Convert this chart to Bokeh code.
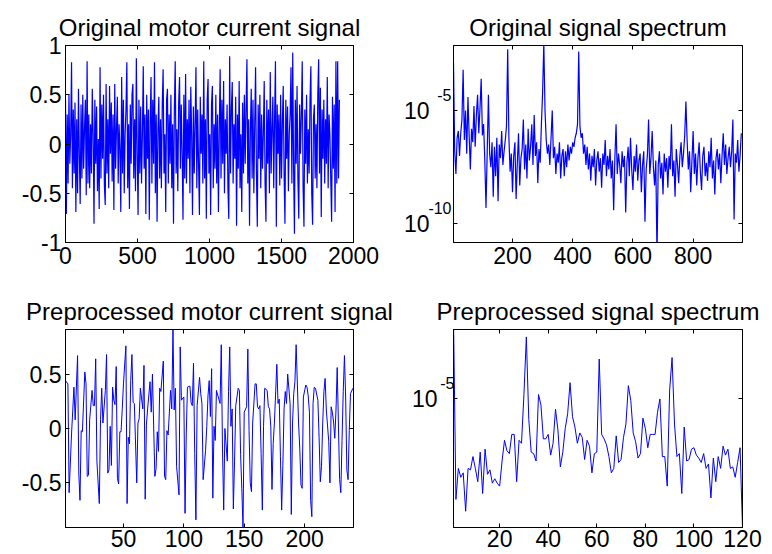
import json
import numpy as np
from bokeh.plotting import figure
from bokeh.layouts import column, row
from bokeh.models import Range1d, FixedTicker, LinearAxis, LogAxis, CustomJSTickFormatter
from bokeh.embed import file_html
from bokeh.resources import INLINE

FONT = "Liberation Sans"
BLUE = "#0000ff"

# ---------------- data ----------------
# Original motor current signal (one value every 6 samples)
ORIG_STEP = 6
orig_signal = [
    0.45, -0.71, 0.3, -0.4, 0.5, -0.2, 0.1, 0.83, -0.45, 0.35,
    -0.3, 0.42, -0.69, 0.25, -0.5, 0.56, -0.1, -0.61, 0.4, -0.35,
    0.5, -0.25, 0.15, 0.45, -0.52, 0.84, -0.4, 0.3, -0.45, 0.2,
    -0.3, 0.56, 0.1, -0.81, 0.45, -0.2, 0.38, -0.48, 0.05, -0.66,
    0.78, -0.35, 0.4, -0.15, 0.5, -0.42, -0.62, 0.61, -0.3, 0.25,
    -0.45, 0.59, -0.1, 0.42, -0.38, 0.3, -0.67, 0.61, -0.25, 0.15,
    0.48, -0.4, 0.2, -0.05, -0.69, 0.68, -0.3, 0.45, -0.5, 0.1,
    0.35, 0.83, -0.45, 0.2, -0.66, 0.4, -0.2, 0.5, 0.61, -0.35,
    0.25, -0.48, 0.87, -0.1, -0.72, 0.45, -0.3, 0.38, -0.4, 0.1,
    0.79, -0.25, 0.3, -0.71, 0.5, -0.15, 0.35, -0.77, 0.2, 0.68,
    -0.4, 0.45, -0.2, 0.83, -0.5, 0.3, -0.79, 0.15, 0.48, -0.35,
    0.25, -0.45, 0.4, 0.76, -0.3, 0.1, -0.69, 0.45, 0.56, -0.4,
    0.3, -0.2, 0.5, -0.45, 0.2, -0.81, 0.35, 0.84, -0.3, 0.15,
    -0.48, 0.42, 0.68, -0.25, 0.4, -0.1, -0.77, 0.5, -0.35, 0.71,
    -0.4, 0.25, -0.15, 0.45, -0.5, 0.58, 0.1, -0.72, 0.38, -0.3,
    0.2, 0.78, -0.45, 0.35, -0.2, -0.72, 0.48, -0.1, 0.3, -0.4,
    0.84, -0.35, 0.25, -0.76, 0.45, 0.66, -0.3, 0.1, -0.72, 0.4,
    0.59, -0.45, 0.2, -0.25, 0.5, -0.4, 0.3, -0.69, 0.15, 0.76,
    -0.35, 0.45, -0.2, 0.64, -0.5, 0.25, -0.1, 0.4, -0.45, -0.76,
    0.89, -0.3, 0.35, 0.63, -0.4, 0.2, -0.15, 0.48, -0.83, 0.3,
    -0.25, 0.64, -0.45, 0.1, -0.69, 0.42, -0.3, 0.5, -0.2, 0.35,
    0.86, -0.4, 0.25, -0.83, 0.15, 0.56, -0.35, 0.45, -0.5, 0.2,
    0.78, -0.3, -0.84, 0.4, -0.15, 0.5, -0.45, 0.3, -0.25, 0.1,
    0.64, -0.4, -0.79, 0.45, -0.2, 0.35, -0.5, 0.73, -0.3, 0.15,
    0.48, -0.45, 0.25, 0.84, -0.84, 0.4, -0.1, 0.3, -0.42, 0.5,
    -0.35, 0.2, 0.59, -0.3, -0.81, 0.45, -0.15, 0.38, -0.48, 0.1,
    0.3, 0.78, -0.4, 0.93, -0.25, -0.91, 0.45, -0.2, 0.59, -0.35,
    -0.76, 0.4, -0.1, 0.3, 0.84, -0.45, -0.84, 0.35, -0.2, 0.5,
    -0.4, 0.15, -0.3, 0.45, 0.79, -0.5, -0.82, 0.25, 0.4, -0.35,
    0.2, -0.45, 0.5, 0.86, -0.3, 0.57, -0.74, 0.35, -0.15, 0.45,
    -0.4, 0.25, -0.2, 0.68, -0.45, 0.3, 0.1, -0.35, -0.79, 0.48,
    -0.25, 0.4, -0.69, 0.84, -0.4, 0.84, -0.35, 0.45,
]

# Original signal spectrum, log10 of magnitude, one value every 4 bins
SPEC_STEP = 4
spec_log10 = [
    -2.9, -6.8, -7.8, -6.2, -5.9, -7.0, -6.0, -5.4, -3.2, -6.3,
    -5.0, -6.9, -4.4, -6.1, -7.6, -5.8, -6.4, -4.8, -6.6, -5.2,
    -4.3, -6.0, -4.9, -3.6, -6.1, -5.6, -7.2, -9.3, -6.8, -4.3,
    -6.9, -7.5, -6.4, -8.8, -6.6, -7.9, -6.2, -9.0, -6.5, -7.1,
    -5.9, -7.4, -6.8, -6.3, -5.7, -2.3, -6.2, -7.7, -6.9, -8.6,
    -7.0, -6.4, -8.9, -7.3, -6.0, -8.3, -7.1, -6.7, -5.4, -7.6,
    -6.5, -8.0, -5.8, -7.2, -6.6, -5.6, -7.4, -5.2, -7.0, -6.4,
    -8.2, -6.7, -7.3, -5.6, -4.2, -2.0, -5.0, -6.3, -6.9, -6.5,
    -7.4, -6.2, -5.0, -7.1, -6.6, -7.8, -6.9, -7.3, -6.4, -8.0,
    -7.0, -6.7, -7.9, -6.8, -7.5, -6.5, -7.2, -6.6, -6.9, -6.4,
    -6.6, -6.2, -6.0, -5.6, -2.4, -5.7, -6.2, -6.0, -6.9, -6.5,
    -7.4, -6.6, -7.6, -6.9, -8.1, -7.0, -7.5, -6.7, -8.3, -7.2,
    -6.8, -7.7, -7.1, -8.4, -6.9, -7.4, -6.3, -7.9, -7.0, -7.6,
    -6.7, -8.0, -7.2, -9.4, -7.1, -5.6, -7.8, -6.9, -7.4, -8.2,
    -6.8, -7.5, -7.0, -9.5, -7.3, -6.6, -7.9, -6.2, -7.6, -8.5,
    -7.0, -7.7, -6.5, -8.1, -7.2, -6.9, -8.6, -7.4, -6.8, -9.9,
    -7.6, -7.0, -5.4, -7.8, -7.1, -5.9, -7.5, -8.3, -7.2, -11.5,
    -7.4, -6.8, -8.0, -7.3, -8.7, -6.9, -7.7, -7.1, -8.4, -7.0,
    -7.6, -5.6, -7.9, -7.2, -8.8, -6.7, -7.4, -8.2, -7.0, -6.4,
    -7.5, -6.9, -6.1, -4.6, -6.3, -7.6, -6.8, -8.6, -7.2, -5.9,
    -7.8, -6.9, -8.3, -7.1, -6.4, -7.7, -8.5, -7.0, -6.6, -7.9,
    -7.3, -8.1, -6.8, -7.5, -6.2, -8.0, -7.2, -8.7, -7.1, -6.7,
    -7.6, -6.9, -8.2, -7.0, -6.0, -7.4, -6.5, -7.8, -7.1, -6.6,
    -7.5, -6.8, -5.4, -9.8, -6.9, -7.3, -6.3, -7.7, -7.0, -6.0,
]

# Preprocessed motor current signal: sample index and value
pre_idx = [
    2, 4, 5, 7, 9, 10, 12, 13, 14, 15, 16, 18, 19, 20, 21, 22, 24, 25, 26, 27,
    28, 30, 31, 32, 33, 35, 36, 37, 38, 39, 40, 41, 42, 43, 44, 45, 46, 47, 48, 49,
    50, 52, 53, 54, 55, 56, 57, 58, 59, 61, 62, 63, 64, 66, 67, 68, 69, 70, 72, 73,
    74, 76, 77, 78, 79, 80, 81, 83, 84, 85, 86, 87, 89, 90, 91, 92, 93, 94, 96, 97,
    98, 100, 101, 102, 103, 105, 106, 107, 108, 109, 110, 111, 113, 114, 115, 116, 118, 119, 120, 121,
    122, 123, 124, 125, 126, 127, 129, 130, 131, 132, 133, 134, 136, 137, 138, 139, 140, 141, 142, 143,
    145, 146, 147, 148, 149, 150, 152, 153, 154, 155, 156, 157, 159, 160, 161, 162, 163, 164, 165, 166,
    167, 169, 170, 171, 172, 173, 174, 175, 177, 178, 179, 180, 181, 182, 183, 184, 185, 186, 188, 189,
    190, 191, 192, 193, 195, 196, 197, 198, 199, 201, 202, 203, 204, 205, 206, 207, 208, 209, 211, 212,
    213, 214, 215, 216, 217, 218, 220, 221, 222, 223, 224, 225, 226, 227, 229, 230, 231, 232, 233, 234,
    235, 236, 237, 238, 240,
]
pre_signal = [
    0.44, 0.41, -0.59, -0.05, 0.38, 0.08, 0.67, -0.41, -0.66, -0.02, -0.03, 0.52, 0.41, -0.44, -0.43, 0.08, 0.35, 0.21, 0.21, 0.64,
    -0.30, -0.69, 0.08, 0.37, 0.05, 0.35, 0.68, -0.41, -0.38, 0.02, -0.34, 0.38, 0.26, 0.22, 0.57, -0.46, -0.51, -0.03, -0.03, 0.18,
    0.41, 0.76, -0.69, -0.08, -0.14, 0.44, 0.68, 0.24, 0.23, -0.50, 0.05, 0.09, 0.37, 0.18, 0.58, -0.65, 0.03, 0.18, 0.43, 0.15,
    0.50, -0.44, -0.37, -0.03, -0.21, 0.37, 0.34, 0.62, -0.44, -0.47, -0.02, -0.06, 0.35, 0.18, 0.91, 0.17, 0.37, -0.35, -0.61, 0.75,
    0.26, 0.29, -0.78, -0.05, 0.38, 0.39, 0.24, 0.21, 0.60, -0.23, -0.84, 0.21, 0.47, 0.32, 0.23, -0.47, -0.20, 0.02, 0.30, 0.44,
    0.11, 0.55, -0.64, 0.02, -0.11, 0.35, 0.27, 0.23, 0.77, -0.18, -0.75, 0.00, -0.30, 0.34, 0.75, 0.02, 0.18, -0.74, -0.30, 0.21,
    0.37, 0.35, -0.24, -0.55, -0.91, 0.15, 0.20, 0.73, -0.02, -0.50, -0.58, 0.05, 0.41, 0.41, 0.20, 0.18, 0.21, -0.23, -0.75, 0.02,
    0.37, 0.35, 0.20, 0.18, 0.02, -0.56, -0.14, 0.05, 0.59, 0.23, 0.27, -0.26, -0.75, -0.34, 0.18, 0.34, 0.23, 0.50, 0.23, -0.79,
    0.05, 0.32, 0.43, 0.77, 0.05, -0.18, -0.52, -0.55, 0.29, 0.40, 0.38, 0.30, 0.15, -0.66, -0.81, 0.23, 0.38, 0.37, 0.26, -0.08,
    -0.49, -0.35, 0.05, 0.34, 0.46, 0.17, -0.12, -0.50, 0.20, 0.15, 0.06, -0.09, 0.17, 0.56, -0.47, -0.59, -0.11, 0.34, 0.67, 0.29,
    -0.38, -0.47, -0.02, 0.32, 0.37,
]

# Preprocessed signal spectrum, log10 of magnitude for bins 1..120
pre_spec_log10 = [
    -4.45, -5.68, -5.47, -5.53, -5.50, -5.76, -5.47, -5.48, -5.39, -5.47,
    -5.56, -5.36, -5.64, -5.34, -5.51, -5.48, -5.57, -5.54, -5.57, -5.59,
    -5.42, -5.28, -5.35, -5.37, -5.24, -5.24, -5.56, -5.28, -5.30, -4.97,
    -4.58, -5.14, -5.36, -5.37, -5.42, -4.97, -5.04, -5.27, -5.27, -5.24,
    -5.38, -5.30, -5.07, -5.21, -5.46, -5.36, -5.20, -5.10, -4.89, -5.12,
    -5.19, -5.30, -5.23, -5.26, -5.41, -5.28, -5.32, -5.50, -5.37, -5.36,
    -4.73, -5.24, -5.27, -5.31, -5.39, -5.50, -5.47, -5.25, -5.43, -5.41,
    -5.26, -5.17, -4.91, -5.01, -5.23, -5.29, -5.40, -5.37, -5.13, -5.20,
    -5.33, -5.24, -5.24, -5.24, -5.09, -5.00, -5.39, -5.39, -5.59, -4.94,
    -4.72, -5.17, -5.39, -5.37, -5.64, -5.19, -5.42, -5.41, -5.34, -5.33,
    -5.38, -5.40, -5.43, -5.37, -5.47, -5.44, -5.67, -5.40, -5.56, -5.39,
    -5.47, -5.32, -5.38, -5.34, -5.47, -5.46, -5.53, -5.43, -5.33, -5.87,
]

# Axis ticks and limits
orig_xticks = [0, 500, 1000, 1500, 2000]
orig_yticks = [-1, -0.5, 0, 0.5, 1]
spec_xticks = [200, 400, 600, 800]
spec_yticks = [1e-10, 1e-5]
spec_exponents = ["-10", "-5"]
pre_xticks = [50, 100, 150, 200]
pre_yticks = [-0.5, 0, 0.5]
pre_spec_xticks = [20, 40, 60, 80, 100, 120]
pre_spec_yticks = [1e-5]
pre_spec_exponents = ["-5"]

# ---------------- derived columns ----------------
orig_x = np.arange(len(orig_signal)) * ORIG_STEP
spec_x = (np.arange(len(spec_log10)) + 1) * SPEC_STEP
spec_y = 10.0 ** np.array(spec_log10)
pre_spec_x = np.arange(1, len(pre_spec_log10) + 1)
pre_spec_y = 10.0 ** np.array(pre_spec_log10)

NUM_FMT = "return String(Math.round(tick * 100) / 100);"
BASE_FMT = "return '10';"
BLANK_FMT = "return '';"


def style_axis(ax, standoff, size="23px"):
    ax.major_tick_in = 4
    ax.major_tick_out = 0
    ax.minor_tick_line_color = None
    ax.axis_line_color = "black"
    ax.major_tick_line_color = "black"
    ax.major_label_text_font = FONT
    ax.major_label_text_font_size = size
    ax.major_label_text_color = "black"
    ax.major_label_standoff = standoff


def make_fig(title, xr, yr, xticks, yticks, log, w, h, b, xstand=4, ystand=4):
    kw = dict(width=w, height=h, output_backend="svg", toolbar_location=None,
              x_range=Range1d(*xr), y_range=Range1d(*yr),
              min_border_left=b[0], min_border_right=b[1],
              min_border_top=b[2], min_border_bottom=b[3])
    if log:
        kw["y_axis_type"] = "log"
    p = figure(title=title, **kw)
    p.title.text_font = FONT
    p.title.text_font_size = "24px"
    p.title.text_font_style = "normal"
    p.title.text_color = "black"
    p.title.align = "center"
    p.title.standoff = 9
    p.xgrid.visible = False
    p.ygrid.visible = False
    p.outline_line_color = "black"
    p.outline_line_width = 1
    p.background_fill_color = "white"
    p.border_fill_color = "white"

    style_axis(p.xaxis[0], xstand)
    style_axis(p.yaxis[0], 0 if log else ystand)
    p.xaxis[0].ticker = FixedTicker(ticks=xticks)
    p.yaxis[0].ticker = FixedTicker(ticks=yticks)
    p.xaxis[0].formatter = CustomJSTickFormatter(code=NUM_FMT)
    # on log plots the first left axis only carries the inward tick marks
    p.yaxis[0].formatter = CustomJSTickFormatter(code=BLANK_FMT if log else NUM_FMT)

    top = LinearAxis(ticker=FixedTicker(ticks=xticks), formatter=CustomJSTickFormatter(code=BLANK_FMT))
    style_axis(top, 0)
    p.add_layout(top, "above")
    right = (LogAxis if log else LinearAxis)(ticker=FixedTicker(ticks=yticks),
                                             formatter=CustomJSTickFormatter(code=BLANK_FMT))
    style_axis(right, 0)
    p.add_layout(right, "right")
    return p


def add_power_labels(p, ticks, exps, frame_h, raise_px, exp_standoff, base_standoff):
    """'10' tick labels with raised exponents: an exponent axis whose labels
    sit raise_px above each tick, then a '10' axis further out."""
    lo, hi = np.log10(p.y_range.start), np.log10(p.y_range.end)
    shift = float(10.0 ** (raise_px * (hi - lo) / frame_h))
    pos = [float(t) * shift for t in ticks]
    code = ("var ticks = %s; var labs = %s; var best = 0; var d = 1e99;"
            "for (var i = 0; i < ticks.length; i++) {"
            "  var dd = Math.abs(Math.log(tick) - Math.log(ticks[i]));"
            "  if (dd < d) { d = dd; best = i; } }"
            "return labs[best];") % (json.dumps(pos), json.dumps(list(exps)))
    ax_e = LogAxis(ticker=FixedTicker(ticks=pos), formatter=CustomJSTickFormatter(code=code))
    style_axis(ax_e, exp_standoff, size="16px")
    ax_e.major_tick_line_color = None
    ax_e.axis_line_color = None
    ax_e.major_tick_in = 0
    p.add_layout(ax_e, "left")

    ax_b = LogAxis(ticker=FixedTicker(ticks=list(ticks)), formatter=CustomJSTickFormatter(code=BASE_FMT))
    style_axis(ax_b, base_standoff)
    ax_b.major_tick_line_color = None
    ax_b.axis_line_color = None
    ax_b.major_tick_in = 0
    p.add_layout(ax_b, "left")


p1 = make_fig("Original motor current signal", (0, 2000), (-1, 1),
              orig_xticks, orig_yticks, False, 400, 288, (65, 47, 45, 46))
p1.line(orig_x, orig_signal, line_color=BLUE, line_width=1.2)

p2 = make_fig("Original signal spectrum", (4, 964), (10 ** -10.82, 10 ** -2.13),
              spec_xticks, spec_yticks, True, 372, 288, (53, 30, 45, 46))
p2.line(spec_x, spec_y, line_color=BLUE, line_width=1.2)
add_power_labels(p2, spec_yticks, spec_exponents, 197, 16, 2, -4)

p3 = make_fig("Preprocessed motor current signal", (2, 240.5), (-0.91, 0.91),
              pre_xticks, pre_yticks, False, 400, 266, (65, 47, 41, 27), xstand=2)
p3.line(pre_idx, pre_signal, line_color=BLUE, line_width=1)

p4 = make_fig("Preprocessed signal spectrum", (1, 120), (10 ** -5.87, 10 ** -4.53),
              pre_spec_xticks, pre_spec_yticks, True, 372, 266, (53, 30, 41, 27), xstand=2)
p4.line(pre_spec_x, pre_spec_y, line_color=BLUE, line_width=1)
add_power_labels(p4, pre_spec_yticks, pre_spec_exponents, 198, 16, -1, 0)

layout = column(row(p1, p2), row(p3, p4))

with open("out.html", "w", encoding="utf-8") as f:
    f.write(file_html(layout, INLINE))
